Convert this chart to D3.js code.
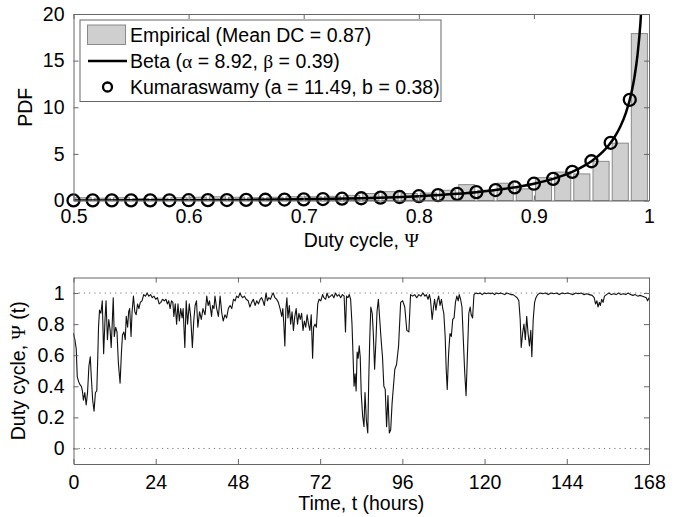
<!DOCTYPE html>
<html>
<head>
<meta charset="utf-8">
<script src="https://cdn.jsdelivr.net/npm/d3@7"></script>
<style>
body{margin:0;background:#fff;}
svg text{font-family:"Liberation Sans",Arial,Helvetica,sans-serif;font-size:19.5px;fill:#000;}
.greek{font-family:"Liberation Serif","Times New Roman",serif;}
.axis path,.axis line{stroke:#666;stroke-width:1;}
</style>
</head>
<body>
<svg id="chart" width="680" height="517"></svg>
<script>
// ---- top panel: histogram of duty cycle + fitted pdfs ----
const binLefts = [0.5,0.5167,0.5333,0.55,0.5667,0.5833,0.6,0.6167,0.6333,0.65,
	0.6667,0.6833,0.7,0.7167,0.7333,0.75,0.7667,0.7833,0.8,0.8167,
	0.8333,0.85,0.8667,0.8833,0.9,0.9167,0.9333,0.95,0.9667,0.9833];
const binWidth = 1/60;
const empiricalPdf = [0.30,0.25,0.30,0.20,0.25,0.30,0.35,0.40,0.35,0.30,
	0.35,0.40,0.40,0.45,0.55,0.75,0.95,0.75,0.80,1.10,
	1.70,1.10,1.85,1.25,2.45,3.05,2.85,4.20,6.15,17.9];
// Kumaraswamy markers sit on the bin left edges
const kumaPdf = [0.006,0.009,0.011,0.015,0.019,0.024,0.031,0.040,0.050,0.064,
	0.080,0.100,0.126,0.157,0.195,0.243,0.302,0.374,0.463,0.575,
	0.716,0.893,1.12,1.41,1.80,2.32,3.07,4.21,6.19,10.8];
const betaX = [0.5,0.55,0.6,0.65,0.7,0.75,0.8,0.8333,0.85,0.875,0.9,0.9167,0.925,
	0.9333,0.94,0.95,0.96,0.965,0.97,0.975,0.98,0.985,0.9875,0.99,0.9925,0.995];
const betaY = [0.006,0.015,0.031,0.064,0.126,0.243,0.463,0.716,0.893,1.26,1.80,2.32,2.66,
	3.07,3.47,4.21,5.24,5.93,6.78,7.90,9.42,11.69,13.33,15.58,18.94,24.75];
const legendLabels = ["Empirical (Mean DC = 0.87)", "Beta (α = 8.92, β = 0.39)", "Kumaraswamy (a = 11.49, b = 0.38)"];
const pdfXTicks = [0.5,0.6,0.7,0.8,0.9,1];
const pdfYTicks = [0,5,10,15,20];

// ---- bottom panel: duty cycle over one week, [hours, value] ----
const dutySeries = [
	[0,.74],[0.4,.70],[0.8,.64],[1.1,.46],[1.5,.43],[1.9,.41],[2.3,.40],[2.6,.37],[2.9,.31],[3.3,.36],
	[3.7,.28],[4.1,.36],[4.5,.53],[4.9,.59],[5.2,.46],[5.6,.31],[6.0,.24],[6.4,.36],[6.8,.37],[7.1,.60],
	[7.3,.78],[7.6,.89],[8.0,.87],[8.4,.95],[8.8,.61],[9.2,.83],[9.5,.95],[9.9,.70],[10.3,.83],[10.7,.76],
	[11.0,.65],[11.3,.80],[11.6,.97],[11.9,.72],[12.3,.78],[12.7,.75],[13.1,.55],[13.6,.42],[14.0,.62],[14.3,.73],
	[14.7,.75],[15.1,.70],[15.4,.85],[15.8,.78],[16.1,.88],[16.4,.90],[16.8,.72],[17.1,.88],[17.5,.98],[17.9,.88],
	[18.3,.86],[18.7,.93],[19.1,.90],[19.5,.94],[20.0,.95],[20.5,.99],[21.0,.98],[21.5,1.0],[22.0,.98],[22.5,.99],
	[23.0,.97],[23.5,.98],[24.0,.96],[24.5,.97],[25.0,.93],[25.5,.94],[26.0,.96],[26.5,.95],[27.0,.96],[27.4,.93],
	[27.8,.95],[28.2,.90],[28.6,.95],[29.0,.94],[29.3,.85],[29.7,.93],[30.1,.80],[30.5,.93],[30.9,.82],[31.3,.90],
	[31.7,.84],[32.0,.90],[32.5,.65],[32.9,.95],[33.3,.80],[33.8,.93],[34.2,.85],[34.7,.65],[35.1,.82],[35.5,.92],
	[35.9,.95],[36.3,.78],[36.8,.88],[37.3,.83],[37.8,.90],[38.4,.86],[38.9,.98],[39.3,.92],[39.7,.95],[40.3,.85],
	[40.6,.92],[41.0,.90],[41.3,.98],[41.8,.90],[42.3,.85],[42.8,.98],[43.3,.87],[43.7,.82],[44.2,.86],[44.7,.84],
	[45.2,.90],[45.7,.92],[46.2,.90],[46.7,.96],[47.2,.95],[47.6,.98],[48.1,.97],[48.6,1.0],[49.0,.98],[49.4,.97],
	[49.9,.98],[50.4,.96],[51.0,.95],[51.5,.91],[52.0,.94],[52.5,.96],[53.0,.92],[53.5,.95],[54.0,.93],[54.5,.96],
	[54.9,.97],[55.3,.95],[55.7,.92],[56.2,1.0],[56.6,.95],[57.0,.97],[57.5,.96],[58.0,.99],[58.3,1.0],[58.8,.97],
	[59.3,.96],[59.8,.94],[60.3,.90],[60.8,.85],[61.1,.90],[61.4,.80],[61.7,.66],[62.0,.90],[62.3,.97],[62.6,.84],
	[63.0,.92],[63.4,.80],[63.8,.88],[64.2,.76],[64.6,.85],[65.0,.90],[65.4,.80],[65.8,.87],[66.2,.83],[66.6,.87],
	[67.0,.76],[67.4,.82],[67.8,.78],[68.2,.86],[68.6,.80],[69.0,.76],[69.4,.86],[69.8,.58],[70.1,.78],[70.5,.80],
	[70.9,.78],[71.3,.93],[71.7,.96],[72.2,.95],[72.7,.99],[73.1,.97],[73.6,.96],[74.0,1.0],[74.5,.97],[75.0,.98],
	[75.5,.99],[76.0,.97],[76.5,1.0],[77.0,.98],[77.5,.99],[78.0,.97],[78.5,.99],[79.0,.98],[79.4,.75],[79.7,.98],
	[80.1,.97],[80.5,.99],[80.9,.96],[81.3,.80],[81.6,.60],[81.9,.40],[82.2,.48],[82.5,.37],[82.8,.62],[83.1,.58],
	[83.4,.66],[83.7,.59],[84.0,.35],[84.4,.21],[84.8,.14],[85.1,.36],[85.5,.18],[85.9,.10],[86.2,.45],[86.5,.72],
	[86.8,.91],[87.2,.87],[87.5,.75],[87.9,.51],[88.3,.70],[88.6,.88],[89.0,.96],[89.4,.83],[89.8,.70],[90.2,.59],
	[90.6,.40],[91.0,.38],[91.4,.14],[91.8,.34],[92.2,.10],[92.6,.12],[93.0,.29],[93.4,.40],[93.8,.51],[94.3,.54],
	[94.9,.66],[95.5,.94],[96.1,.95],[96.7,.91],[97.3,.76],[97.9,.75],[98.4,.99],[99.0,.98],[99.6,.99],[100.2,.97],
	[100.8,.99],[101.4,.98],[102.0,1.0],[102.6,.98],[103.0,.99],[103.5,.96],[103.9,.99],[104.2,.96],[104.7,.83],[105.1,.91],
	[105.4,.96],[105.8,.89],[106.2,.95],[106.6,.98],[107.0,.92],[107.4,.96],[107.8,.90],[108.1,.87],[108.5,.72],[108.8,.51],
	[109.1,.38],[109.5,.61],[109.9,.74],[110.3,.72],[110.7,.83],[111.1,.84],[111.5,.94],[111.9,.98],[112.3,.95],[112.6,.99],
	[113.0,.96],[113.4,.91],[113.8,.70],[114.2,.49],[114.6,.34],[115.0,.61],[115.4,.87],[115.8,.91],[116.1,.86],[116.5,.84],
	[116.9,.99],[117.5,1.0],[118.1,.995],[118.7,1.0],[119.3,.99],[119.9,1.0],[120.5,.995],[121.1,1.0],[121.7,.995],[122.3,1.0],
	[122.9,.99],[123.5,1.0],[124.1,.995],[124.7,1.0],[125.3,.995],[125.9,.99],[126.5,1.0],[127.1,.995],[127.7,.99],[128.3,.99],
	[128.9,.98],[129.5,.97],[130.0,.95],[130.4,.83],[130.7,.65],[131.1,.74],[131.5,.80],[131.9,.70],[132.3,.85],[132.7,.74],
	[133.1,.66],[133.5,.76],[133.8,.59],[134.2,.83],[134.6,.94],[135.0,.97],[135.5,.99],[136.2,1.0],[137.0,.995],[137.8,1.0],
	[138.6,.99],[139.4,1.0],[140.2,.995],[141.0,1.0],[141.8,.99],[142.6,1.0],[143.4,.995],[144.2,1.0],[145.0,.995],[145.8,.99],
	[146.6,1.0],[147.4,.995],[148.2,1.0],[149.0,.99],[149.8,.995],[150.6,.99],[151.4,.985],[152.0,.97],[152.4,.93],[152.8,.95],
	[153.1,.91],[153.5,.94],[153.8,.92],[154.2,.96],[154.6,.94],[155.0,.98],[155.6,.99],[156.3,1.0],[157.0,.99],[157.7,.995],
	[158.4,.99],[159.1,1.0],[159.8,.99],[160.5,.995],[161.2,.99],[161.9,1.0],[162.6,.99],[163.3,.985],[164.0,.99],[164.7,.98],
	[165.4,.985],[166.1,.98],[166.7,.975],[167.2,.97],[167.6,.95],[168,.97]
];
const timeTicks = [0,24,48,72,96,120,144,168];
const dutyTicks = [0,0.2,0.4,0.6,0.8,1];
const dutyRefLines = [0,1];

const svg = d3.select("#chart");
const tickLen = 5;

// ================= top panel =================
const xPdf = d3.scaleLinear().domain([0.5, 1]).range([73.5, 649]);
const yPdf = d3.scaleLinear().domain([0, 20]).range([200.5, 14]);

svg.append("defs").append("clipPath").attr("id", "clipTop")
	.append("rect")
	.attr("x", xPdf(0.5)).attr("y", yPdf(20))
	.attr("width", xPdf(1) - xPdf(0.5)).attr("height", yPdf(0) - yPdf(20));

const topG = svg.append("g");
const barW = xPdf(0.5 + binWidth) - xPdf(0.5);

topG.append("g")
	.selectAll("rect")
	.data(empiricalPdf)
	.enter().append("rect")
	.attr("x", (d, i) => xPdf(binLefts[i]) + barW * 0.08)
	.attr("width", barW * 0.84)
	.attr("y", d => yPdf(d))
	.attr("height", d => yPdf(0) - yPdf(d))
	.attr("fill", "#cfcfcf")
	.attr("stroke", "#8a8a8a")
	.attr("stroke-width", 1);

const betaLine = d3.line()
	.x((d, i) => xPdf(betaX[i]))
	.y(d => yPdf(d))
	.curve(d3.curveMonotoneX);

topG.append("path")
	.datum(betaY)
	.attr("clip-path", "url(#clipTop)")
	.attr("d", betaLine)
	.attr("fill", "none")
	.attr("stroke", "#000")
	.attr("stroke-width", 2.5);

topG.append("g")
	.selectAll("circle")
	.data(kumaPdf)
	.enter().append("circle")
	.attr("cx", (d, i) => xPdf(binLefts[i]))
	.attr("cy", d => yPdf(d))
	.attr("r", 6)
	.attr("fill", "none")
	.attr("stroke", "#000")
	.attr("stroke-width", 2.3);

// axes as a box with inward ticks
topG.append("g").attr("class", "axis")
	.attr("transform", "translate(0," + yPdf(0) + ")")
	.call(d3.axisBottom(xPdf).tickValues(pdfXTicks).tickFormat(d => String(d))
		.tickSizeInner(-tickLen).tickSizeOuter(0).tickPadding(9));
topG.append("g").attr("class", "axis")
	.attr("transform", "translate(0," + yPdf(20) + ")")
	.call(d3.axisTop(xPdf).tickValues(pdfXTicks).tickFormat("")
		.tickSizeInner(-tickLen).tickSizeOuter(0));
topG.append("g").attr("class", "axis")
	.attr("transform", "translate(" + xPdf(0.5) + ",0)")
	.call(d3.axisLeft(yPdf).tickValues(pdfYTicks).tickFormat(d => String(d))
		.tickSizeInner(-tickLen).tickSizeOuter(0).tickPadding(9));
topG.append("g").attr("class", "axis")
	.attr("transform", "translate(" + xPdf(1) + ",0)")
	.call(d3.axisRight(yPdf).tickValues(pdfYTicks).tickFormat("")
		.tickSizeInner(-tickLen).tickSizeOuter(0));

// legend
const legend = topG.append("g");
legend.append("rect")
	.attr("x", 80).attr("y", 20).attr("width", 361).attr("height", 81.5)
	.attr("fill", "#fff").attr("stroke", "#666").attr("stroke-width", 1);
legend.append("rect")
	.attr("x", 87.5).attr("y", 25).attr("width", 38).attr("height", 19.5)
	.attr("fill", "#cfcfcf").attr("stroke", "#8a8a8a");
legend.append("line")
	.attr("x1", 88).attr("x2", 127).attr("y1", 61).attr("y2", 61)
	.attr("stroke", "#000").attr("stroke-width", 2.5);
legend.append("circle")
	.attr("cx", 107.5).attr("cy", 87).attr("r", 4.5)
	.attr("fill", "none").attr("stroke", "#000").attr("stroke-width", 2.3);

function richText(g, str, x, y) {
	const t = g.append("text").attr("x", x).attr("y", y);
	str.split(/([αβΨ])/).forEach(part => {
		if (!part) return;
		const s = t.append("tspan").text(part);
		if (/[αβΨ]/.test(part)) s.attr("class", "greek");
	});
	return t;
}
legendLabels.forEach((lab, i) => richText(legend, lab, 130, 41.5 + i * 26));

// axis titles
topG.append("text")
	.attr("transform", "translate(31.5," + ((yPdf(0) + yPdf(20)) / 2) + ") rotate(-90)")
	.attr("text-anchor", "middle")
	.text("PDF");
richText(topG, "Duty cycle, Ψ", (xPdf(0.5) + xPdf(1)) / 2, 247)
	.attr("text-anchor", "middle");

// ================= bottom panel =================
const xTime = d3.scaleLinear().domain([0, 168]).range([73.5, 649]);
const yDuty = d3.scaleLinear().domain([-0.1, 1.1]).range([464, 277.5]);
const bottomG = svg.append("g");

bottomG.append("g")
	.selectAll("line")
	.data(dutyRefLines)
	.enter().append("line")
	.attr("x1", xTime(0)).attr("x2", xTime(168))
	.attr("y1", d => yDuty(d)).attr("y2", d => yDuty(d))
	.attr("stroke", "#777")
	.attr("stroke-width", 1)
	.attr("stroke-dasharray", "1.2,4");

bottomG.append("path")
	.datum(dutySeries)
	.attr("d", d3.line().x(d => xTime(d[0])).y(d => yDuty(d[1])))
	.attr("fill", "none")
	.attr("stroke", "#111")
	.attr("stroke-width", 1.1)
	.attr("stroke-linejoin", "round");

bottomG.append("g").attr("class", "axis")
	.attr("transform", "translate(0," + yDuty(-0.1) + ")")
	.call(d3.axisBottom(xTime).tickValues(timeTicks).tickFormat(d => String(d))
		.tickSizeInner(-tickLen).tickSizeOuter(0).tickPadding(11));
bottomG.append("g").attr("class", "axis")
	.attr("transform", "translate(0," + yDuty(1.1) + ")")
	.call(d3.axisTop(xTime).tickValues(timeTicks).tickFormat("")
		.tickSizeInner(-tickLen).tickSizeOuter(0));
bottomG.append("g").attr("class", "axis")
	.attr("transform", "translate(" + xTime(0) + ",0)")
	.call(d3.axisLeft(yDuty).tickValues(dutyTicks).tickFormat(d => String(d))
		.tickSizeInner(-tickLen).tickSizeOuter(0).tickPadding(9));
bottomG.append("g").attr("class", "axis")
	.attr("transform", "translate(" + xTime(168) + ",0)")
	.call(d3.axisRight(yDuty).tickValues(dutyTicks).tickFormat("")
		.tickSizeInner(-tickLen).tickSizeOuter(0));

richText(bottomG, "Duty cycle, Ψ (t)", 0, 0)
	.attr("transform", "translate(25," + ((yDuty(-0.1) + yDuty(1.1)) / 2) + ") rotate(-90)")
	.attr("text-anchor", "middle");
bottomG.append("text")
	.attr("x", (xTime(0) + xTime(168)) / 2)
	.attr("y", 510)
	.attr("text-anchor", "middle")
	.text("Time, t (hours)");

svg.selectAll(".axis text").style("font-size", "19.5px").style("font-family", "'Liberation Sans',Arial,sans-serif");
</script>
</body>
</html>
